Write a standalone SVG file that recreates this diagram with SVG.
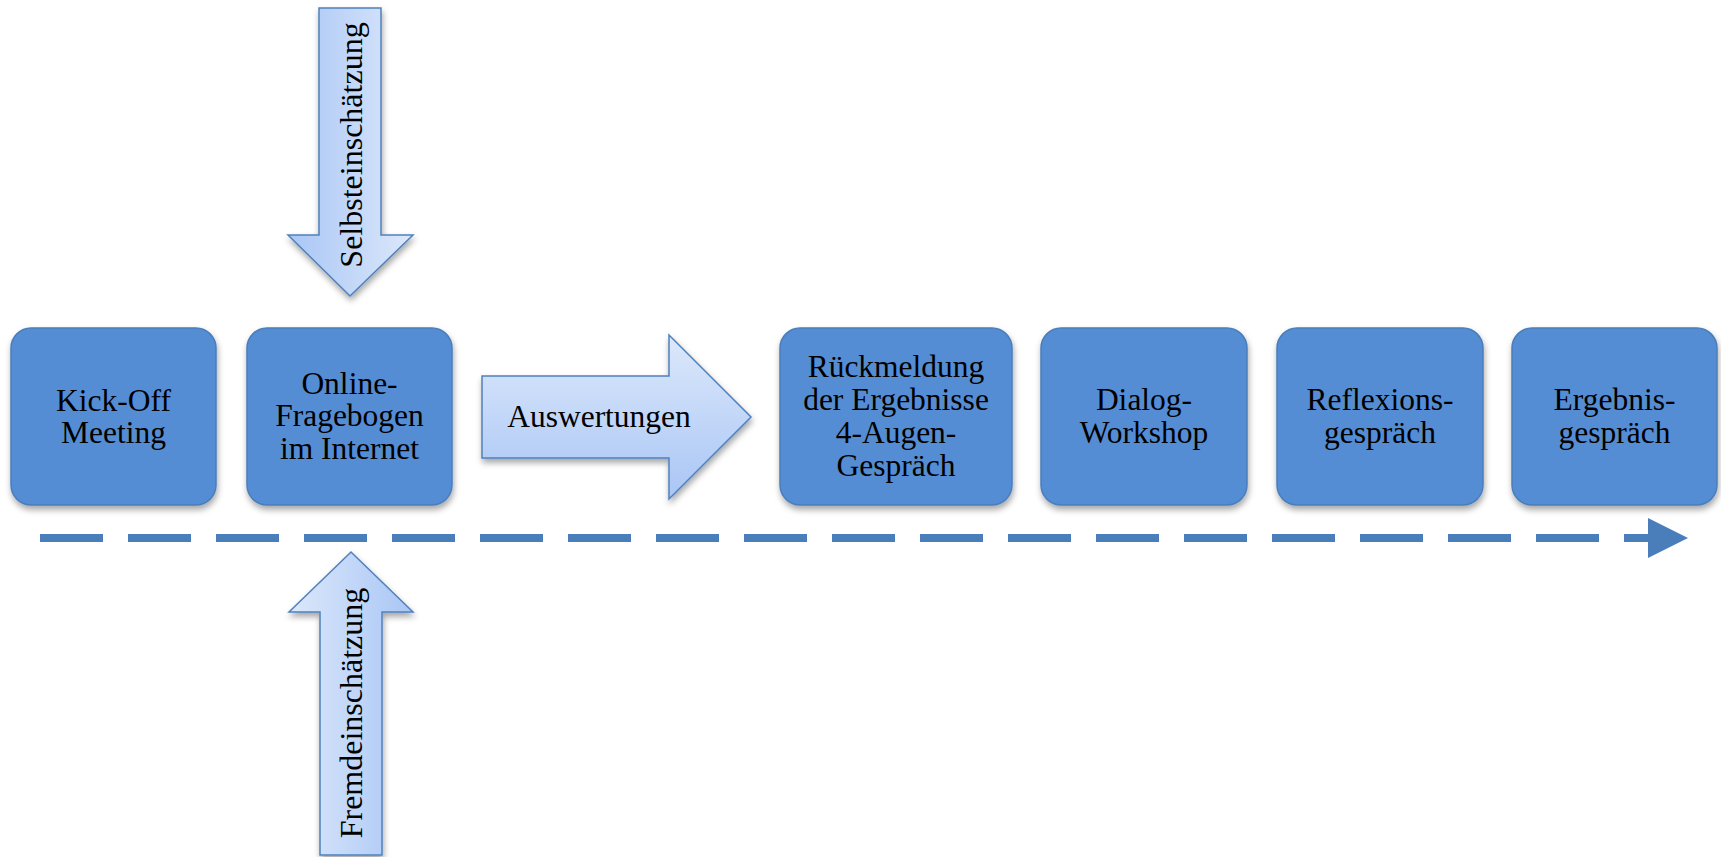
<svg xmlns="http://www.w3.org/2000/svg" width="1721" height="857" viewBox="0 0 1721 857">
  <defs>
    <style>
      .box { fill: #548DD4; stroke: #4A7EBB; stroke-width: 1.5; filter: url(#shadow); }
      .lbl { font-family: "Liberation Serif", "Times New Roman", serif; font-size: 31.5px; fill: #000; text-anchor: middle; }
      .vlbl { font-family: "Liberation Serif", "Times New Roman", serif; font-size: 32px; fill: #000; text-anchor: middle; }
      .fat { stroke: #4F81BD; stroke-width: 1.5; stroke-linejoin: miter; filter: url(#shadow); }
      .timeline { fill: none; stroke: #4A7EBB; stroke-width: 8; stroke-dasharray: 63 25; }
    </style>
    <filter id="shadow" x="-10%" y="-10%" width="125%" height="130%">
      <feDropShadow dx="1" dy="4" stdDeviation="3" flood-color="#000" flood-opacity="0.35"/>
    </filter>
    <!-- light-to-dark fill, oriented per arrow direction -->
    <linearGradient id="gradRight" x1="0" y1="0" x2="0" y2="1">
      <stop offset="0" stop-color="#DCE8FB"/>
      <stop offset="1" stop-color="#A9C6F5"/>
    </linearGradient>
    <linearGradient id="gradDown" x1="1" y1="0" x2="0" y2="0">
      <stop offset="0" stop-color="#DCE8FB"/>
      <stop offset="1" stop-color="#A9C6F5"/>
    </linearGradient>
    <linearGradient id="gradUp" x1="0" y1="0" x2="1" y2="0">
      <stop offset="0" stop-color="#DCE8FB"/>
      <stop offset="1" stop-color="#A9C6F5"/>
    </linearGradient>
  </defs>

  <rect width="1721" height="857" fill="#fff"/>

  <!-- timeline connector -->
  <g id="connectors">
    <path class="timeline" d="M40,538 H1650"/>
    <polygon points="1648,518 1688,538 1648,558" fill="#4A7EBB"/>
  </g>

  <!-- input arrows -->
  <g id="selbsteinschaetzung">
    <polygon class="fat" fill="url(#gradDown)" points="319,8 381,8 381,235 413,235 350,296 288,235 319,235"/>
    <text class="vlbl" transform="translate(362,145) rotate(-90)" x="0" y="0">Selbsteinschätzung</text>
  </g>

  <g id="fremdeinschaetzung">
    <polygon class="fat" fill="url(#gradUp)" points="351,552 413,612 382,612 382,855 320,855 320,612 289,612"/>
    <text class="vlbl" transform="translate(362,713) rotate(-90)" x="0" y="0">Fremdeinschätzung</text>
  </g>

  <g id="auswertungen">
    <polygon class="fat" fill="url(#gradRight)" points="482,376 669,376 669,335 751,417 669,499 669,458 482,458"/>
    <text class="lbl" x="599" y="427">Auswertungen</text>
  </g>

  <!-- process steps -->
  <g id="kickoff">
    <rect class="box" x="11" y="328" width="205" height="177" rx="20"/>
    <text class="lbl" x="113.5" y="411">Kick-Off</text>
    <text class="lbl" x="113.5" y="443">Meeting</text>
  </g>

  <g id="fragebogen">
    <rect class="box" x="247" y="328" width="205" height="177" rx="20"/>
    <text class="lbl" x="349.5" y="394">Online-</text>
    <text class="lbl" x="349.5" y="426">Fragebogen</text>
    <text class="lbl" x="349.5" y="459">im Internet</text>
  </g>

  <g id="rueckmeldung">
    <rect class="box" x="780" y="328" width="232" height="177" rx="20"/>
    <text class="lbl" x="896" y="377">Rückmeldung</text>
    <text class="lbl" x="896" y="410">der Ergebnisse</text>
    <text class="lbl" x="896" y="443">4-Augen-</text>
    <text class="lbl" x="896" y="476">Gespräch</text>
  </g>

  <g id="dialog">
    <rect class="box" x="1041" y="328" width="206" height="177" rx="20"/>
    <text class="lbl" x="1144" y="410">Dialog-</text>
    <text class="lbl" x="1144" y="443">Workshop</text>
  </g>

  <g id="reflexion">
    <rect class="box" x="1277" y="328" width="206" height="177" rx="20"/>
    <text class="lbl" x="1380" y="410">Reflexions-</text>
    <text class="lbl" x="1380" y="443">gespräch</text>
  </g>

  <g id="ergebnis">
    <rect class="box" x="1512" y="328" width="205" height="177" rx="20"/>
    <text class="lbl" x="1614.5" y="410">Ergebnis-</text>
    <text class="lbl" x="1614.5" y="443">gespräch</text>
  </g>
</svg>
